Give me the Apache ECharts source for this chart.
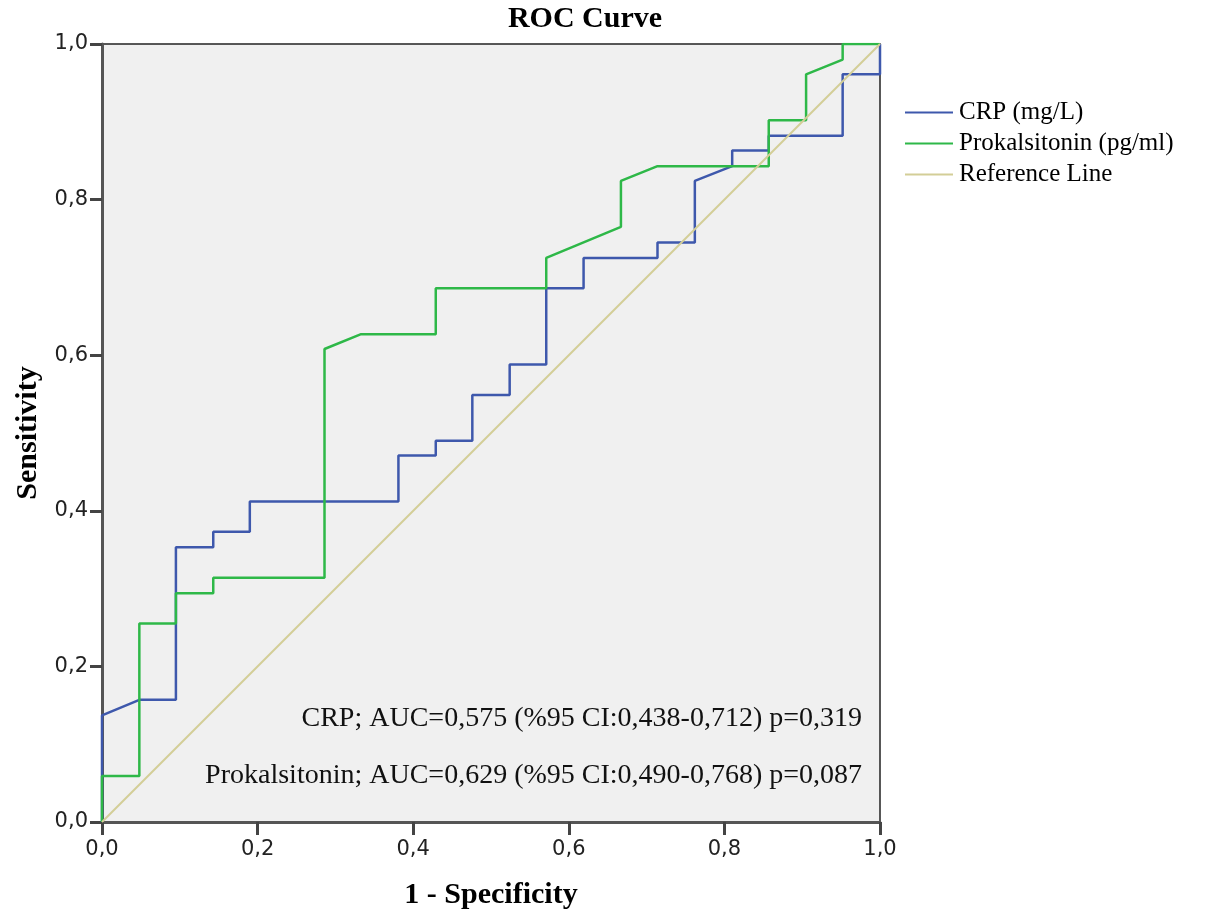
<!DOCTYPE html>
<html>
<head>
<meta charset="utf-8">
<script src="https://cdn.jsdelivr.net/npm/echarts@6/dist/echarts.min.js"></script>
<style>
  html, body { margin: 0; padding: 0; background: #fff; }
  #main { width: 1214px; height: 918px; }
</style>
</head>
<body>
<div id="main"></div>
<script>
var chartDom = document.getElementById('main');
var myChart = echarts.init(chartDom);
var option;

// ROC points (1 - specificity, sensitivity)
let crpX = [0, 0, 0.048, 0.095, 0.095, 0.143, 0.143, 0.190, 0.190, 0.381, 0.381, 0.429, 0.429, 0.476, 0.476, 0.524, 0.524, 0.571, 0.571, 0.619, 0.619, 0.714, 0.714, 0.762, 0.762, 0.810, 0.810, 0.857, 0.857, 0.952, 0.952, 1, 1];
let crpY = [0, 0.137, 0.157, 0.157, 0.353, 0.353, 0.373, 0.373, 0.412, 0.412, 0.471, 0.471, 0.490, 0.490, 0.549, 0.549, 0.588, 0.588, 0.686, 0.686, 0.725, 0.725, 0.745, 0.745, 0.824, 0.843, 0.863, 0.863, 0.882, 0.882, 0.961, 0.961, 1];
let pctX = [0, 0, 0.048, 0.048, 0.095, 0.095, 0.143, 0.143, 0.286, 0.286, 0.333, 0.429, 0.429, 0.571, 0.571, 0.667, 0.667, 0.714, 0.857, 0.857, 0.905, 0.905, 0.952, 0.952, 1];
let pctY = [0, 0.059, 0.059, 0.255, 0.255, 0.294, 0.294, 0.314, 0.314, 0.608, 0.627, 0.627, 0.686, 0.686, 0.725, 0.765, 0.824, 0.843, 0.843, 0.902, 0.902, 0.961, 0.980, 1, 1];
let refX = [0, 1];
let refY = [0, 1];

let seriesNames = ['CRP (mg/L)', 'Prokalsitonin (pg/ml)', 'Reference Line'];
let tickValues = [0, 0.2, 0.4, 0.6, 0.8, 1.0];
let tickLabels = ['0,0', '0,2', '0,4', '0,6', '0,8', '1,0'];
let notes = [
    'CRP; AUC=0,575 (%95 CI:0,438-0,712) p=0,319',
    'Prokalsitonin; AUC=0,629 (%95 CI:0,490-0,768) p=0,087'
];

function pairs(xs, ys) {
    let out = [];
    for (let i = 0; i < xs.length; i++) {
        out.push([xs[i], ys[i]]);
    }
    return out;
}

function tickLabel(v) {
    for (let i = 0; i < tickValues.length; i++) {
        if (Math.abs(tickValues[i] - v) < 1e-6) return tickLabels[i];
    }
    return '';
}

const serif = '"Liberation Serif", "DejaVu Serif", serif';

function axisCommon(name) {
    return {
        type: 'value',
        min: 0,
        max: 1,
        interval: 0.2,
        name: name,
        nameLocation: 'middle',
        nameGap: 58,
        nameTextStyle: { fontFamily: serif, fontWeight: 'bold', fontSize: 30, color: '#000' },
        axisLine: { show: true, lineStyle: { color: '#555', width: 3 } },
        axisTick: { show: true, inside: false, length: 13, lineStyle: { color: '#444', width: 3 } },
        axisLabel: {
            formatter: tickLabel,
            fontFamily: '"DejaVu Sans", sans-serif',
            fontSize: 21,
            color: '#222',
            margin: 17
        },
        splitLine: { show: false }
    };
}

let xAxis = axisCommon('1 - Specificity');
let yAxis = axisCommon('Sensitivity');
yAxis.axisLabel.margin = 14;
yAxis.axisTick.length = 12;

option = {
    animation: false,
    title: {
        text: 'ROC Curve',
        left: 585,
        top: 4,
        textAlign: 'center',
        padding: 0,
        textStyle: { fontFamily: serif, fontWeight: 'bold', fontSize: 30, color: '#000' }
    },
    grid: {
        left: 102,
        right: 334,
        top: 44,
        bottom: 96,
        show: true,
        backgroundColor: '#f0f0f0',
        borderColor: '#222',
        borderWidth: 1.5
    },
    legend: {
        orient: 'vertical',
        left: 905,
        top: 100,
        padding: 0,
        itemGap: 6,
        itemWidth: 48,
        itemHeight: 2,
        icon: 'rect',
        data: seriesNames,
        textStyle: { fontFamily: serif, fontSize: 25, lineHeight: 25, color: '#000', padding: [0, 0, 0, 1] }
    },
    xAxis: xAxis,
    yAxis: yAxis,
    series: [{
        name: seriesNames[0],
        type: 'line',
        data: pairs(crpX, crpY),
        showSymbol: false,
        symbol: 'none',
        color: '#3e58ac',
        lineStyle: { width: 2.5 }
    }, {
        name: seriesNames[1],
        type: 'line',
        data: pairs(pctX, pctY),
        showSymbol: false,
        symbol: 'none',
        color: '#2eb848',
        lineStyle: { width: 2.5 }
    }, {
        name: seriesNames[2],
        type: 'line',
        data: pairs(refX, refY),
        showSymbol: false,
        symbol: 'none',
        color: '#d3ce97',
        lineStyle: { width: 2 }
    }],
    graphic: [{
        type: 'text',
        right: 352,
        top: 705,
        style: { text: notes[0], font: '28px ' + serif, fill: '#111' }
    }, {
        type: 'text',
        right: 352,
        top: 762,
        style: { text: notes[1], font: '28px ' + serif, fill: '#111' }
    }]
};

option && myChart.setOption(option);
</script>
</body>
</html>
